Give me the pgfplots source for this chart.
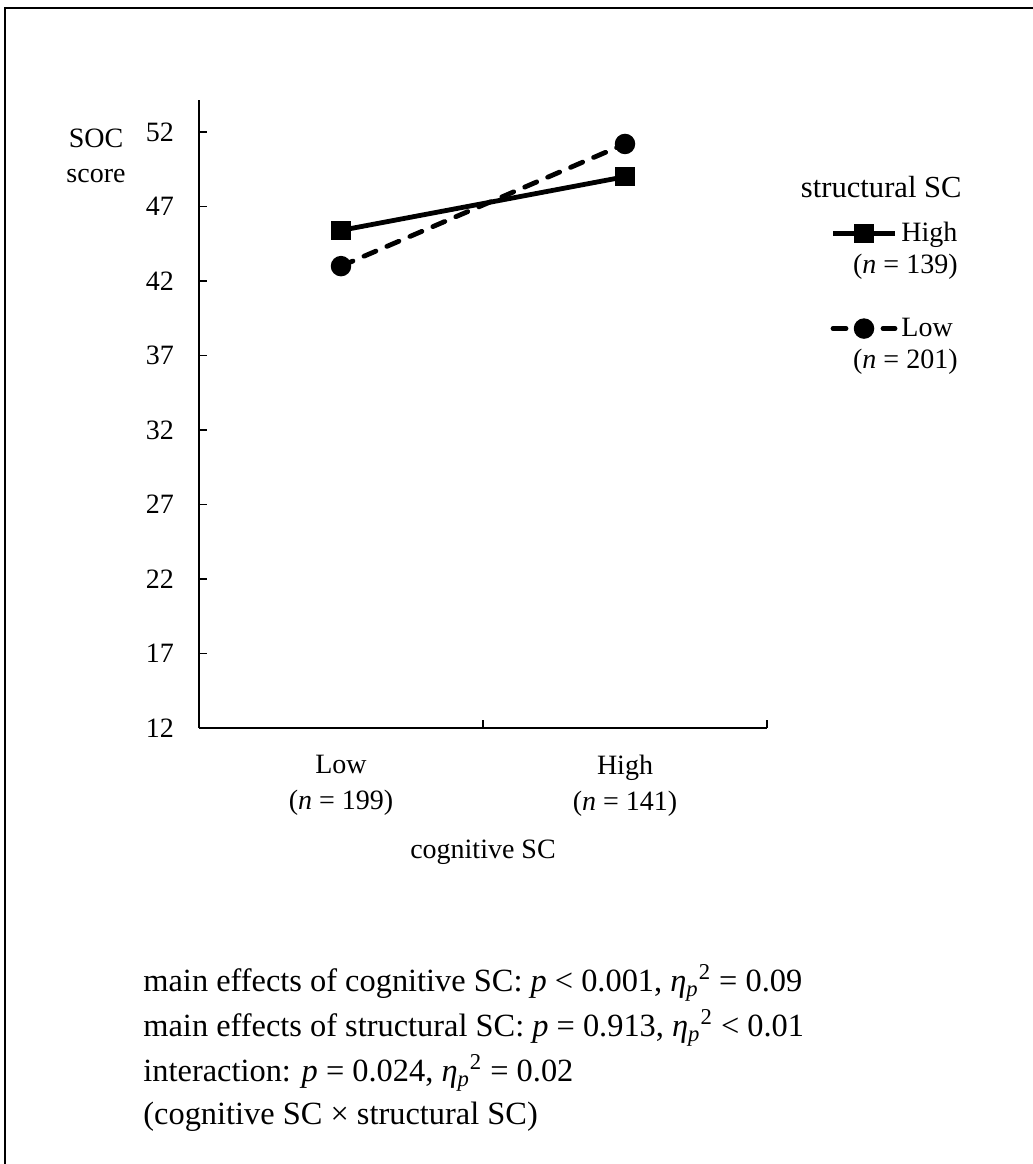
\documentclass[border=0pt]{standalone}
\usepackage{fontspec}
\setmainfont{Liberation Serif}
\usepackage{pgfplots}
\pgfplotsset{compat=1.18}
\newcommand{\fs}{\fontsize{14}{17.5}\selectfont}
\newcommand{\etap}{\textit{η}\textsubscript{\textit{p}}\textsuperscript{2}}
\begin{document}
\begin{tikzpicture}
\path[use as bounding box] (0,0) rectangle ({1033*0.5pt},{-1164*0.5pt});
% frame, only top and left edges visible
\draw[line width=1.3pt] ({5*0.5pt},{-1164*0.5pt}) -- ({5*0.5pt},{-8*0.5pt}) -- ({1040*0.5pt},{-8*0.5pt});

\begin{axis}[
  at={({199*0.5pt},{-728*0.5pt})}, anchor=south west,
  width={568*0.5pt}, height={628*0.5pt}, scale only axis,
  xmin=0, xmax=2, ymin=12, ymax=54.15,
  axis lines=left, axis line style={-, line width=0.9pt},
  tick align=inside, major tick length=4pt,
  every tick/.style={black, line width=0.9pt},
  ytick={12,17,...,52},
  xtick={1,2}, xticklabels={{},{}},
  extra x ticks={0.5,1.5},
  extra x tick labels={{Low\\(\textit{n} = 199)},{High\\(\textit{n} = 141)}},
  extra x tick style={major tick length=0pt},
  tick label style={font=\fs},
  xticklabel style={align=center, yshift=-10pt, font=\fontsize{14}{18}\selectfont},
  yticklabel style={xshift=-9pt},
  /pgf/number format/assume math mode=true,
  xlabel={cognitive SC},
  xlabel style={font=\fs, yshift=-5pt},
  ylabel={SOC\\score},
  every axis y label/.style={at={(rel axis cs:0,1)}, anchor=center,
    xshift=-51.5pt, yshift=-28pt, align=center, font=\fs},
  clip=false,
  legend style={draw=none, fill=none, at={(rel axis cs:1.343,0.812)},
    anchor=north east, inner sep=0pt, row sep=32.5pt, font=\fs},
  legend cell align=left,
  legend image code/.code={\draw[mark repeat=2,mark phase=2,#1]
    plot coordinates {(0pt,0pt) (15.5pt,0pt) (31pt,0pt)};},
]
\addplot[black, line width=2.4pt, mark=square*, mark size=3.6pt, mark options={solid}]
  coordinates {(0.5,45.4) (1.5,49.0)};
\addlegendentry{High}
\addplot[black, line width=2.4pt, line cap=round, dash pattern=on 6.5pt off 6pt, mark=*, mark size=3.9pt, mark options={solid}]
  coordinates {(0.5,43.0) (1.5,51.2)};
\addlegendentry{Low}
\end{axis}

\node[anchor=east, inner sep=0pt, font=\fontsize{15.3}{18}\selectfont] at ({962*0.5pt},{-187*0.5pt}) {structural SC};
\node[anchor=east, inner sep=0pt, font=\fs] at ({958*0.5pt},{-267*0.5pt}) {(\textit{n} = 139)};
\node[anchor=east, inner sep=0pt, font=\fs] at ({958*0.5pt},{-362*0.5pt}) {(\textit{n} = 201)};

\begin{scope}[every node/.style={anchor=west, inner sep=0pt, font=\fontsize{16.2}{19}\selectfont}]
\node at ({143*0.5pt},{-983*0.5pt}) {main effects of cognitive SC: \textit{p} < 0.001, \etap{} = 0.09};
\node at ({143*0.5pt},{-1028*0.5pt}) {main effects of structural SC: \textit{p} = 0.913, \etap{} < 0.01};
\node at ({143*0.5pt},{-1073*0.5pt}) {interaction: \textit{p} = 0.024, \etap{} = 0.02};
\node at ({143*0.5pt},{-1117*0.5pt}) {(cognitive SC × structural SC)};
\end{scope}
\end{tikzpicture}
\end{document}
